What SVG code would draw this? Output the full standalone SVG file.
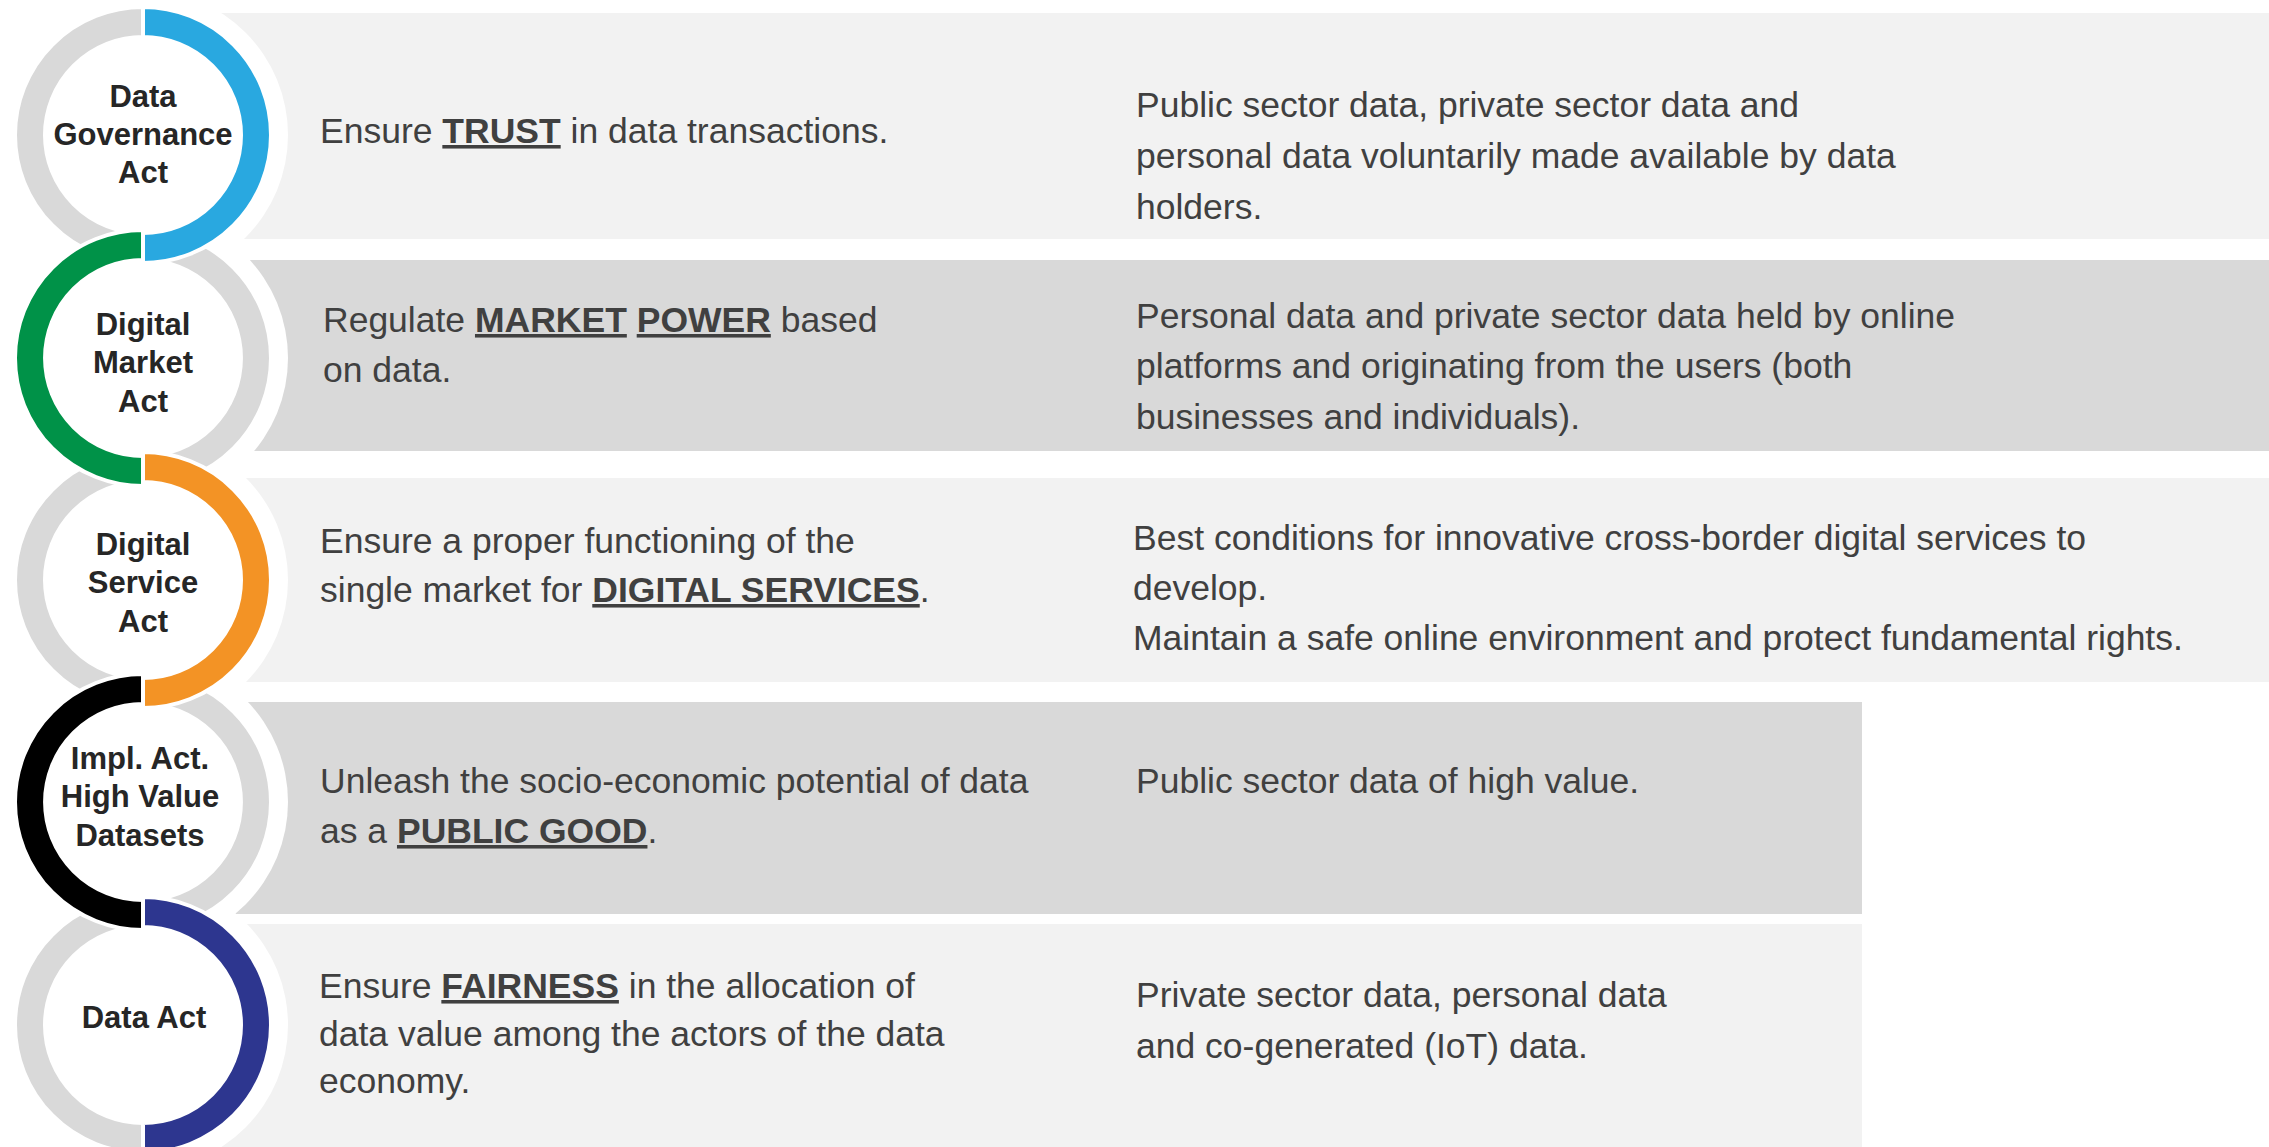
<svg xmlns="http://www.w3.org/2000/svg" width="2269" height="1147" viewBox="0 0 2269 1147">
<style>
.bgL{fill:#F2F2F2}
.bgD{fill:#D9D9D9}
.halo{fill:#FFFFFF}
.ring{stroke:#FFFFFF;stroke-width:4;stroke-linejoin:round}
.gray{fill:#D9D9D9}
.lbl{font-family:"Liberation Sans",Arial,sans-serif;font-weight:bold;font-size:31px;fill:#262626;text-anchor:middle}
.txt{font-family:"Liberation Sans",Arial,sans-serif;font-size:35.5px;fill:#404040}
.b{font-weight:bold;text-decoration:underline}
</style>
<rect width="2269" height="1147" fill="#FFFFFF"/>
<g id="bands">
<rect class="bgL" x="143" y="13" width="2126" height="226"/>
<rect class="bgD" x="143" y="260" width="2126" height="191"/>
<rect class="bgL" x="143" y="478" width="2126" height="204"/>
<rect class="bgD" x="143" y="702" width="1719" height="212"/>
<rect class="bgL" x="143" y="924" width="1719" height="223"/>
</g>
<g id="halos">
<circle class="halo" cx="143" cy="135" r="145"/>
<circle class="halo" cx="143" cy="358" r="145"/>
<circle class="halo" cx="143" cy="580" r="145"/>
<circle class="halo" cx="143" cy="802" r="145"/>
<circle class="halo" cx="143" cy="1025" r="145"/>
</g>
<g id="gray-halves">
<path class="ring gray" d="M143,7 A128,128 0 0 0 143,263 L143,233 A98,98 0 0 1 143,37 Z"/>
<path class="ring gray" d="M143,230 A128,128 0 0 1 143,486 L143,456 A98,98 0 0 0 143,260 Z"/>
<path class="ring gray" d="M143,452 A128,128 0 0 0 143,708 L143,678 A98,98 0 0 1 143,482 Z"/>
<path class="ring gray" d="M143,674 A128,128 0 0 1 143,930 L143,900 A98,98 0 0 0 143,704 Z"/>
<path class="ring gray" d="M143,897 A128,128 0 0 0 143,1153 L143,1123 A98,98 0 0 1 143,927 Z"/>
</g>
<g id="node-dga">
<path class="ring" fill="#29A8E0" d="M143,7 A128,128 0 0 1 143,263 L143,233 A98,98 0 0 0 143,37 Z"/>
<text class="lbl" x="143"><tspan x="143" y="107">Data</tspan><tspan x="143" y="145">Governance</tspan><tspan x="143" y="183">Act</tspan></text>
<text class="txt" x="320" y="143">Ensure <tspan class="b">TRUST</tspan> in data transactions.</text>
<text class="txt"><tspan x="1136" y="117">Public sector data, private sector data and</tspan><tspan x="1136" y="168">personal data voluntarily made available by data</tspan><tspan x="1136" y="219">holders.</tspan></text>
</g>
<g id="node-dma">
<path class="ring" fill="#009248" d="M143,230 A128,128 0 0 0 143,486 L143,456 A98,98 0 0 1 143,260 Z"/>
<text class="lbl"><tspan x="143" y="335">Digital</tspan><tspan x="143" y="373">Market</tspan><tspan x="143" y="412">Act</tspan></text>
<text class="txt"><tspan x="323" y="332">Regulate <tspan class="b">MARKET</tspan> <tspan class="b">POWER</tspan> based</tspan><tspan x="323" y="382">on data.</tspan></text>
<text class="txt"><tspan x="1136" y="328">Personal data and private sector data held by online</tspan><tspan x="1136" y="378">platforms and originating from the users (both</tspan><tspan x="1136" y="429">businesses and individuals).</tspan></text>
</g>
<g id="node-dsa">
<path class="ring" fill="#F39325" d="M143,452 A128,128 0 0 1 143,708 L143,678 A98,98 0 0 0 143,482 Z"/>
<text class="lbl"><tspan x="143" y="555">Digital</tspan><tspan x="143" y="593">Service</tspan><tspan x="143" y="632">Act</tspan></text>
<text class="txt"><tspan x="320" y="553">Ensure a proper functioning of the</tspan><tspan x="320" y="602">single market for <tspan class="b">DIGITAL SERVICES</tspan>.</tspan></text>
<text class="txt"><tspan x="1133" y="550">Best conditions for innovative cross-border digital services to</tspan><tspan x="1133" y="600">develop.</tspan><tspan x="1133" y="650">Maintain a safe online environment and protect fundamental rights.</tspan></text>
</g>
<g id="node-hvd">
<path class="ring" fill="#000000" d="M143,674 A128,128 0 0 0 143,930 L143,900 A98,98 0 0 1 143,704 Z"/>
<text class="lbl"><tspan x="140" y="769">Impl. Act.</tspan><tspan x="140" y="807">High Value</tspan><tspan x="140" y="846">Datasets</tspan></text>
<text class="txt"><tspan x="320" y="793">Unleash the socio-economic potential of data</tspan><tspan x="320" y="843">as a <tspan class="b">PUBLIC GOOD</tspan>.</tspan></text>
<text class="txt" x="1136" y="793">Public sector data of high value.</text>
</g>
<g id="node-da">
<path class="ring" fill="#2D368F" d="M143,897 A128,128 0 0 1 143,1153 L143,1123 A98,98 0 0 0 143,927 Z"/>
<text class="lbl" x="144" y="1028">Data Act</text>
<text class="txt"><tspan x="319" y="998">Ensure <tspan class="b">FAIRNESS</tspan> in the allocation of</tspan><tspan x="319" y="1046">data value among the actors of the data</tspan><tspan x="319" y="1093">economy.</tspan></text>
<text class="txt"><tspan x="1136" y="1007">Private sector data, personal data</tspan><tspan x="1136" y="1058">and co-generated (IoT) data.</tspan></text>
</g>
<g id="connectors"></g>
</svg>
